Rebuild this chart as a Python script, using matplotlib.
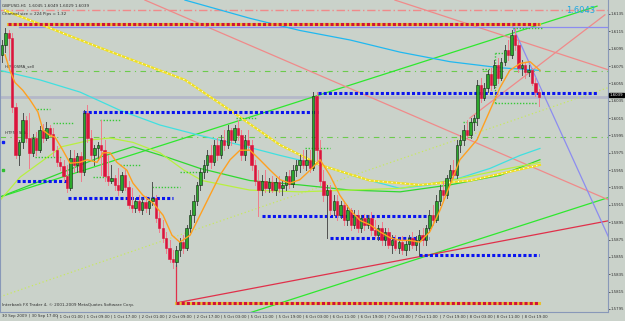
import matplotlib
matplotlib.use('Agg')
import matplotlib.pyplot as plt
from matplotlib.patches import Rectangle

# ---------------- data (GBPUSD H1) ----------------
opens = [1.6088, 1.6099, 1.6113, 1.6107, 1.6028, 1.5972, 1.5987, 1.6013, 1.5992, 1.5975,
         1.5992, 1.5978, 1.6001, 1.5992, 1.6003, 1.5997, 1.5978, 1.5964, 1.5960, 1.5948,
         1.5934, 1.5969, 1.5961, 1.5971, 1.5953, 1.6021, 1.5992, 1.5972, 1.5980, 1.5984,
         1.5978, 1.5948, 1.5943, 1.5946, 1.5938, 1.5932, 1.5949, 1.5936, 1.5915, 1.5911,
         1.5920, 1.5909, 1.5918, 1.5911, 1.5920, 1.5923, 1.5900, 1.5888, 1.5877, 1.5865,
         1.5853, 1.5849, 1.5863, 1.5872, 1.5865, 1.5888, 1.5903, 1.5920, 1.5938, 1.5953,
         1.5961, 1.5972, 1.5964, 1.5984, 1.5972, 1.5990, 1.5984, 1.6001, 1.5990, 1.6003,
         1.5995, 1.5972, 1.5990, 1.5984, 1.5961, 1.5943, 1.5932, 1.5943, 1.5934, 1.5941,
         1.5932, 1.5941, 1.5934, 1.5938, 1.5948, 1.5939, 1.5955, 1.5961, 1.5967, 1.5961,
         1.5967, 1.5957, 1.6041, 1.5978, 1.5943, 1.5926, 1.5932, 1.5909, 1.5920, 1.5903,
         1.5915, 1.5897, 1.5909, 1.5892, 1.5903, 1.5888, 1.5900, 1.5892, 1.5900, 1.5886,
         1.5880, 1.5888, 1.5874, 1.5884, 1.5869, 1.5874, 1.5865, 1.5872, 1.5863, 1.5870,
         1.5877, 1.5869, 1.5874, 1.5880, 1.5874, 1.5888, 1.5903, 1.5897, 1.5920, 1.5932,
         1.5926, 1.5946, 1.5955, 1.5949, 1.5984, 1.5990, 1.6001, 1.5995, 1.6010, 1.6015,
         1.6053, 1.6038, 1.6050, 1.6066, 1.6053, 1.6076, 1.6061, 1.6080, 1.6093, 1.6088,
         1.6111, 1.6099, 1.6073, 1.6076, 1.6068, 1.6070, 1.6056, 1.6045]
highs = [1.6105, 1.6119, 1.6116, 1.6113, 1.6032, 1.5990, 1.6021, 1.6017, 1.6021, 1.5997,
         1.5999, 1.6006, 1.6008, 1.6010, 1.6007, 1.6003, 1.5983, 1.5969, 1.5967, 1.5961,
         1.5978, 1.5978, 1.5975, 1.5976, 1.6024, 1.6030, 1.6001, 1.5984, 1.5987, 1.6013,
         1.5990, 1.5972, 1.5961, 1.5949, 1.5957, 1.5953, 1.5955, 1.5943, 1.5934, 1.5923,
         1.5926, 1.5923, 1.5925, 1.5923, 1.5941, 1.5926, 1.5907, 1.5897, 1.5884, 1.5874,
         1.5863, 1.5867, 1.5877, 1.5880, 1.5892, 1.5909, 1.5926, 1.5941, 1.5957, 1.5967,
         1.5978, 1.5984, 1.5990, 1.5992, 1.5995, 1.6001, 1.6007, 1.6003, 1.6007, 1.6013,
         1.6001, 1.5995, 1.6001, 1.5990, 1.5967, 1.5955, 1.5949, 1.5955, 1.5946, 1.5948,
         1.5946, 1.5948, 1.5943, 1.5953, 1.5955, 1.5961, 1.5967, 1.5972, 1.5978, 1.5978,
         1.5978, 1.6045, 1.6045, 1.5990, 1.5955, 1.5938, 1.5938, 1.5926, 1.5926, 1.5920,
         1.5920, 1.5915, 1.5911, 1.5909, 1.5909, 1.5903, 1.5904, 1.5903, 1.5907, 1.5897,
         1.5892, 1.5895, 1.5888, 1.5888, 1.5880, 1.5880, 1.5877, 1.5879, 1.5874, 1.5880,
         1.5884, 1.5879, 1.5886, 1.5888, 1.5892, 1.5909, 1.5915, 1.5926, 1.5938, 1.5943,
         1.5949, 1.5961, 1.5967, 1.5990, 1.5995, 1.6007, 1.6013, 1.6015, 1.6018, 1.6059,
         1.6061, 1.6056, 1.6070, 1.6073, 1.6082, 1.6084, 1.6084, 1.6099, 1.6105, 1.6116,
         1.6119, 1.6105, 1.6082, 1.6080, 1.6076, 1.6073, 1.6061, 1.6049]
lows = [1.6080, 1.6091, 1.6082, 1.6022, 1.5969, 1.5961, 1.5980, 1.5987, 1.5958, 1.5971,
        1.5973, 1.5976, 1.5987, 1.5990, 1.5994, 1.5971, 1.5960, 1.5955, 1.5943, 1.5930,
        1.5932, 1.5953, 1.5953, 1.5943, 1.5949, 1.5987, 1.5967, 1.5961, 1.5967, 1.5949,
        1.5943, 1.5938, 1.5940, 1.5932, 1.5926, 1.5930, 1.5932, 1.5911, 1.5907, 1.5907,
        1.5907, 1.5904, 1.5907, 1.5904, 1.5915, 1.5895, 1.5884, 1.5872, 1.5860, 1.5849,
        1.5842, 1.5844, 1.5856, 1.5860, 1.5863, 1.5884, 1.5895, 1.5915, 1.5932, 1.5946,
        1.5953, 1.5957, 1.5961, 1.5967, 1.5969, 1.5978, 1.5980, 1.5984, 1.5987, 1.5990,
        1.5967, 1.5967, 1.5978, 1.5955, 1.5938, 1.5902, 1.5926, 1.5930, 1.5930, 1.5930,
        1.5926, 1.5930, 1.5926, 1.5932, 1.5934, 1.5936, 1.5948, 1.5953, 1.5957, 1.5955,
        1.5953, 1.5955, 1.5967, 1.5938, 1.5920, 1.5877, 1.5903, 1.5903, 1.5897, 1.5900,
        1.5892, 1.5892, 1.5886, 1.5888, 1.5884, 1.5884, 1.5886, 1.5888, 1.5880, 1.5877,
        1.5874, 1.5869, 1.5869, 1.5865, 1.5860, 1.5863, 1.5860, 1.5858, 1.5857, 1.5863,
        1.5865, 1.5863, 1.5857, 1.5869, 1.5869, 1.5884, 1.5892, 1.5895, 1.5915, 1.5920,
        1.5923, 1.5941, 1.5946, 1.5946, 1.5976, 1.5984, 1.5992, 1.5992, 1.6001, 1.6007,
        1.6033, 1.6036, 1.6045, 1.6047, 1.6050, 1.6056, 1.6059, 1.6076, 1.6082, 1.6084,
        1.6093, 1.6068, 1.6065, 1.6061, 1.6063, 1.6053, 1.6041, 1.6029]
closes = [1.6099, 1.6113, 1.6107, 1.6028, 1.5972, 1.5987, 1.6013, 1.5992, 1.5975, 1.5992,
          1.5978, 1.6001, 1.5992, 1.6003, 1.5997, 1.5978, 1.5964, 1.5960, 1.5948, 1.5934,
          1.5969, 1.5961, 1.5971, 1.5953, 1.6021, 1.5992, 1.5972, 1.5980, 1.5984, 1.5978,
          1.5948, 1.5943, 1.5946, 1.5938, 1.5932, 1.5949, 1.5936, 1.5915, 1.5911, 1.5920,
          1.5909, 1.5918, 1.5911, 1.5920, 1.5923, 1.5900, 1.5888, 1.5877, 1.5865, 1.5853,
          1.5849, 1.5863, 1.5872, 1.5865, 1.5888, 1.5903, 1.5920, 1.5938, 1.5953, 1.5961,
          1.5972, 1.5964, 1.5984, 1.5972, 1.5990, 1.5984, 1.6001, 1.5990, 1.6003, 1.5995,
          1.5972, 1.5990, 1.5984, 1.5961, 1.5943, 1.5932, 1.5943, 1.5934, 1.5941, 1.5932,
          1.5941, 1.5934, 1.5938, 1.5948, 1.5939, 1.5955, 1.5961, 1.5967, 1.5961, 1.5967,
          1.5957, 1.6041, 1.5978, 1.5943, 1.5926, 1.5932, 1.5909, 1.5920, 1.5903, 1.5915,
          1.5897, 1.5909, 1.5892, 1.5903, 1.5888, 1.5900, 1.5892, 1.5900, 1.5886, 1.5880,
          1.5888, 1.5874, 1.5884, 1.5869, 1.5874, 1.5865, 1.5872, 1.5863, 1.5870, 1.5877,
          1.5869, 1.5874, 1.5880, 1.5874, 1.5888, 1.5903, 1.5897, 1.5920, 1.5932, 1.5926,
          1.5946, 1.5955, 1.5949, 1.5984, 1.5990, 1.6001, 1.5995, 1.6010, 1.6015, 1.6053,
          1.6038, 1.6050, 1.6066, 1.6053, 1.6076, 1.6061, 1.6080, 1.6093, 1.6088, 1.6111,
          1.6099, 1.6073, 1.6076, 1.6068, 1.6070, 1.6056, 1.6045, 1.6039]

xlabels = ["30 Sep 2009", "30 Sep 17:00", "1 Oct 01:00", "1 Oct 09:00", "1 Oct 17:00",
           "2 Oct 01:00", "2 Oct 09:00", "2 Oct 17:00", "5 Oct 03:00", "5 Oct 11:00",
           "5 Oct 19:00", "6 Oct 03:00", "6 Oct 11:00", "6 Oct 19:00", "7 Oct 03:00",
           "7 Oct 11:00", "7 Oct 19:00", "8 Oct 03:00", "8 Oct 11:00", "8 Oct 19:00"]
ytick_vals = [1.6135 - 0.002 * k for k in range(18)]

# horizontal thick dotted levels: (price, start bar, end bar)
blue_levels = [(1.6044, 92.4, 174), (1.6022, 23.7, 92.4), (1.5942, 4.4, 19.0),
               (1.5923, 19.3, 50.0), (1.5902, 76.0, 125.0), (1.5877, 96.0, 125.0),
               (1.5857, 122.0, 157.0)]
red_levels = [(1.6123, 1.8, 157.0), (1.5802, 50.9, 157.0)]
green_dash_levels = [1.6069, 1.5993]
# small green dotted support/resistance segments: (price, start bar, end bar)
green_dot_levels = [(1.6026, 10.2, 14.0), (1.6009, 14.9, 20.8), (1.5970, 9.6, 17.5),
                    (1.6013, 28.7, 34.5), (1.5961, 34.5, 40.4), (1.5947, 26.6, 30.4),
                    (1.5935, 43.9, 52.0), (1.5953, 52.0, 57.9), (1.6015, 68.4, 74.3),
                    (1.5980, 88.6, 95.9), (1.6090, 144.2, 148.5), (1.6032, 144.2, 156.4),
                    (1.6119, 149.4, 157.9), (1.6010, 134.8, 138.9), (1.6071, 140.4, 142.7)]
bid_price = 1.6039

# trend lines: ((bar0, price0), (bar1, price1), color)
trend_lines = [((-0.6, 1.5924), (174.0, 1.6144), '#2EE82E'),
               ((72.0, 1.5790), (177.8, 1.5924), '#2EE82E'),
               ((50.9, 1.5802), (177.8, 1.5897), '#E0304A'),
               ((41.8, 1.6151), (177.8, 1.5920), '#F08A8A'),
               ((114.9, 1.6151), (177.8, 1.6070), '#F08A8A'),
               ((136.8, 1.6015), (176.3, 1.6134), '#F08A8A'),
               ((149.4, 1.6120), (177.8, 1.5874), '#8C8CF0'),
               ((5.0, 1.6120), (177.8, 1.6120), '#8C8CF0')]

# indicator curves: bar index, price
orange_x = [0.9, 2.3, 3.8, 6.1, 8.2, 10.5, 12.0, 14.0, 15.5, 17.5, 19.9, 22.8, 24.9, 27.8,
            29.5, 31.6, 33.6, 36.5, 38.3, 41.2, 44.2, 47.1, 49.7, 52.0, 55.0, 57.9, 60.8,
            63.7, 66.7, 69.6, 72.5, 75.4, 78.4, 81.3, 84.2, 87.1, 90.1, 93.0, 95.9, 98.8,
            101.8, 104.7, 107.6, 110.5, 113.5, 116.4, 119.3, 122.2, 125.1, 128.1, 131.0,
            133.9, 138.9, 142.7, 145.6, 148.5, 151.5, 154.4, 157.3]
orange_y = [1.6088, 1.6070, 1.6056, 1.6047, 1.6036, 1.6022, 1.6001, 1.5995, 1.5993, 1.5980,
            1.5963, 1.5964, 1.5967, 1.5964, 1.5975, 1.5975, 1.5964, 1.5955, 1.5940, 1.5926,
            1.5917, 1.5903, 1.5880, 1.5872, 1.5880, 1.5903, 1.5926, 1.5949, 1.5967, 1.5978,
            1.5978, 1.5967, 1.5955, 1.5944, 1.5940, 1.5944, 1.5955, 1.5967, 1.5949, 1.5926,
            1.5909, 1.5897, 1.5892, 1.5884, 1.5877, 1.5874, 1.5874, 1.5872, 1.5884, 1.5909,
            1.5938, 1.5967, 1.5990, 1.6024, 1.6050, 1.6070, 1.6078, 1.6080, 1.6070]
cyan_x = [-0.6, 11.1, 22.8, 34.5, 46.2, 57.9, 69.6, 81.3, 93, 104.7, 116.4, 125.1, 133.9,
          142.7, 151.5, 157.3]
cyan_y = [1.6070, 1.6059, 1.6045, 1.6024, 1.6007, 1.5995, 1.5984, 1.5972, 1.5961, 1.5946,
          1.5934, 1.5938, 1.5946, 1.5957, 1.5972, 1.5980]
sky_x = [53.5, 72.5, 87.1, 101.8, 116.4, 131, 145.6, 157.3]
sky_y = [1.6151, 1.6130, 1.6116, 1.6105, 1.6091, 1.6080, 1.6073, 1.6070]
yellow_x = [0.9, 28.7, 53.5, 66.7, 81.3, 93, 107.6, 122.2, 136.9, 157.3]
yellow_y = [1.6139, 1.6096, 1.6059, 1.6024, 1.5984, 1.5961, 1.5943, 1.5938, 1.5943, 1.5961]
lime_x = [-0.6, 5.3, 17.5, 26.3, 31.6, 38.3, 46.2, 53.2, 58.5, 72.5, 87.1, 101.8, 116.4,
          131, 145.6, 157.3]
lime_y = [1.5920, 1.5947, 1.5982, 1.5990, 1.5992, 1.5987, 1.5975, 1.5955, 1.5943, 1.5932,
          1.5930, 1.5932, 1.5934, 1.5943, 1.5955, 1.5964]
green_x = [-0.6, 19.3, 28.7, 38.3, 48.2, 57.9, 72.5, 87.1, 101.8, 116.4, 131, 145.6, 157.3]
green_y = [1.5924, 1.5955, 1.5970, 1.5982, 1.5970, 1.5957, 1.5943, 1.5938, 1.5932, 1.5930,
           1.5938, 1.5949, 1.5967]
ygdot_line = [(-0.6, 1.5809), (177.2, 1.6050)]

BG = '#CAD2CA'
TXT = '#303030'
FS = 2.8

fig = plt.figure(figsize=(6.25, 3.21), dpi=100, facecolor=BG)
ax = fig.add_axes([0.0, 9 / 321, 608 / 625, 312 / 321], facecolor=BG)
ax.set_xlim(-0.58, 177.2)
ax.set_ylim(1.57915, 1.61511)

# horizontal full-width lines
ax.axhline(1.6139, color='#F08A8A', lw=1.0, ls=(0, (6, 2, 1, 2)), zorder=1)
for lv in green_dash_levels:
    ax.axhline(lv, color='#6CCB4C', lw=0.8, ls=(0, (5, 4, 1, 4)), zorder=1)
ax.axhline(bid_price, color='#B4B8C8', lw=2.0, zorder=1)

# trend lines
for (x0, y0), (x1, y1), col in trend_lines:
    ax.plot([x0, x1], [y0, y1], color=col, lw=0.9, zorder=2)
ax.plot([50.9, 50.9], [1.5846, 1.5802], color='#E0304A', lw=0.9, zorder=2)
ax.plot([p[0] for p in ygdot_line], [p[1] for p in ygdot_line], color='#C8E860',
        lw=0.9, ls=(0, (1, 2)), zorder=2)

# indicator curves
ax.plot(sky_x, sky_y, color='#20B8F0', lw=0.9, zorder=2)
ax.plot(cyan_x, cyan_y, color='#40E0E0', lw=0.9, zorder=2)
ax.plot(green_x, green_y, color='#30D830', lw=0.9, zorder=2)
ax.plot(lime_x, lime_y, color='#B8F040', lw=0.9, zorder=2)
ax.plot(yellow_x, yellow_y, color='#F0E020', lw=1.6, zorder=2)
ax.plot(yellow_x, yellow_y, color='white', lw=0.8, ls=(0, (1, 3)), zorder=2)

# levels
for p, a, b in green_dot_levels:
    ax.plot([a, b], [p, p], color='#38C838', lw=1.0, ls=(0, (1, 1.2)), zorder=3)
ax.plot([144.2, 144.2], [1.6032, 1.6090], color='#38C838', lw=1.0, ls=(0, (1, 1.2)), zorder=3)
for p, a, b in blue_levels:
    ax.plot([a, b], [p, p], color='#0A14F0', lw=2.2, ls=(0, (1, 0.7)), zorder=3)
for p, a, b in red_levels:
    ax.plot([a, b], [p, p], color='#E8C030', lw=2.2, zorder=3)
    ax.plot([a, b], [p, p], color='#D0103C', lw=2.2, ls=(0, (1, 0.7)), zorder=3)

# candles
for i, (o, h, l, c) in enumerate(zip(opens, highs, lows, closes)):
    bull = c >= o
    ax.plot([i, i], [l, h], color='#505050' if bull else '#F07C8C', lw=0.7, zorder=4)
    body = max(abs(c - o), 0.00005)
    ax.add_patch(Rectangle((i - 0.35, min(o, c)), 0.7, body,
                           facecolor='#2CA82C' if bull else '#DC143C',
                           edgecolor='#102010' if bull else '#DC143C', lw=0.4, zorder=5))

ax.plot(orange_x, orange_y, color='#FFA020', lw=1.0, zorder=6)

# markers at left edge
ax.plot([0.2], [1.5987], marker='s', ms=1.8, color='#1020F0', zorder=6)
ax.plot([0.2], [1.5955], marker='s', ms=1.5, color='#30C030', zorder=6)

# axes style
ax.spines['top'].set_visible(False)
for s in ['left', 'right', 'bottom']:
    ax.spines[s].set_color('#8898B8')
    ax.spines[s].set_linestyle((0, (1, 1)))
    ax.spines[s].set_linewidth(0.8)
ax.yaxis.tick_right()
ax.set_yticks(ytick_vals)
ax.set_yticklabels(['%.4f' % v for v in ytick_vals], fontsize=FS, color=TXT)
ax.tick_params(axis='y', length=1.5, width=0.5, pad=0.5, colors=TXT)
ax.set_xticks([8 * k for k in range(len(xlabels))])
ax.set_xticklabels(['| ' + s if k else s for k, s in enumerate(xlabels)], fontsize=FS,
                   ha='left', color=TXT)
ax.tick_params(axis='x', length=0, pad=1.5)

# texts
ax.text(0.004, 0.988, 'GBPUSD,H1  1.6045 1.6049 1.6029 1.6039', transform=ax.transAxes,
        fontsize=3.0, color=TXT, va='top')
ax.text(0.004, 0.962, 'Channel size = 224 Pips = 1.32', transform=ax.transAxes,
        fontsize=3.0, color=TXT, va='top')
ax.text(0.004, 0.017, 'Interbank FX Trader 4, \u00a9 2001-2009 MetaQuotes Software Corp.',
        transform=ax.transAxes, fontsize=3.0, color=TXT, va='bottom')
ax.text(0.8, 1.6075, 'HTF50SMA_sell', fontsize=2.9, color=TXT, va='center')
ax.text(0.8, 1.5998, 'HTF50 SMA', fontsize=2.9, color=TXT, va='center')
ax.text(173.5, 1.6139, '1.6043', fontsize=6, color='#20A8E0', ha='right', va='center')
ax.text(1.003, bid_price + 0.00025, '%.4f' % bid_price, transform=ax.get_yaxis_transform(),
        fontsize=FS, color='white', va='center', ha='left',
        bbox=dict(boxstyle='square,pad=0.1', fc='black', ec='black'))

fig.savefig('out.png', dpi=100, facecolor=BG)
